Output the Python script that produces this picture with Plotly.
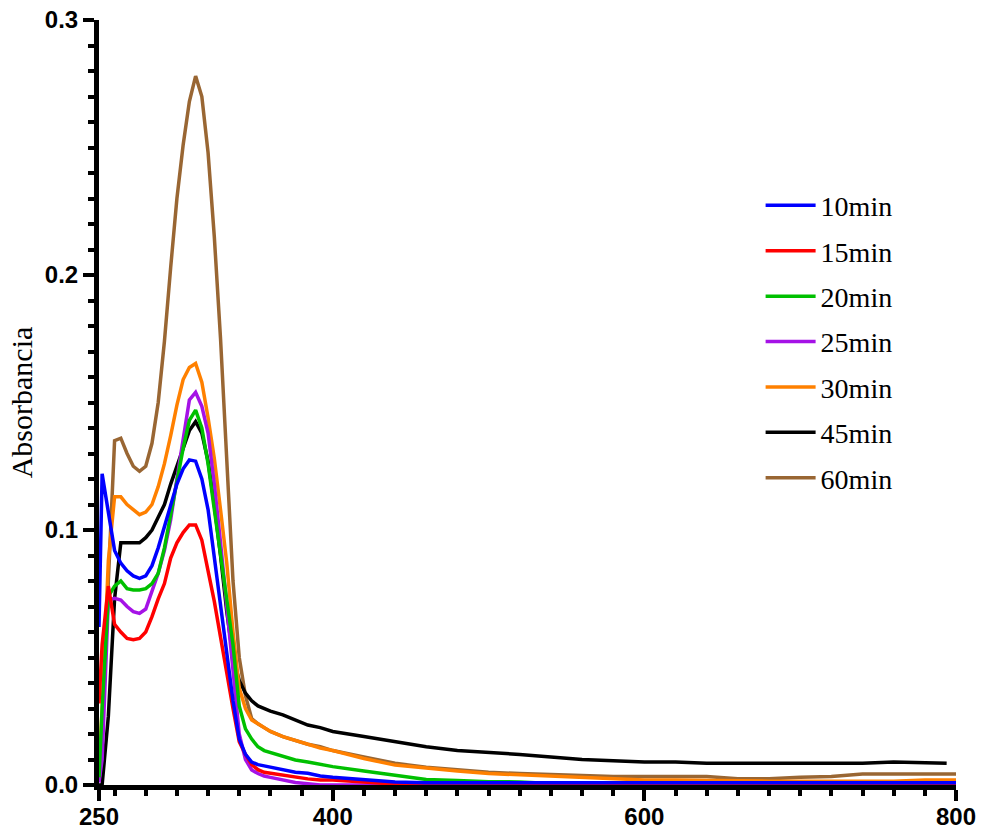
import plotly.graph_objects as go

# wavelength (nm)
wavelengths = [250, 252, 256, 260, 264, 268, 272, 276, 280, 284, 288, 292, 296, 300,
               304, 308, 312, 316, 320, 324, 328, 332, 336, 340, 344, 348, 352, 356,
               360, 368, 376, 384, 392, 400, 420, 440, 460, 480, 500, 520, 540, 560,
               580, 600, 620, 640, 660, 680, 700, 720, 740, 760, 780, 800]
wavelengths_45 = wavelengths[:-1] + [794]

abs_10 = [0.062, 0.122, 0.107, 0.092, 0.087, 0.084, 0.082, 0.081, 0.082, 0.086, 0.093, 0.101, 0.110, 0.118,
          0.124, 0.1275, 0.127, 0.120, 0.108, 0.089, 0.071, 0.052, 0.033, 0.018, 0.012, 0.009, 0.008, 0.0075,
          0.007, 0.0058, 0.005, 0.0046, 0.0035, 0.003, 0.002, 0.0012, 0.0009, 0.0009, 0.0009, 0.0009, 0.0009, 0.0009,
          0.0009, 0.0009, 0.0009, 0.0009, 0.0009, 0.0009, 0.0009, 0.0009, 0.0009, 0.0009, 0.0009, 0.0009]
abs_15 = [0.032, 0.055, 0.078, 0.063, 0.060, 0.0575, 0.057, 0.0575, 0.060, 0.066, 0.073, 0.079, 0.089, 0.095,
          0.099, 0.102, 0.102, 0.096, 0.084, 0.072, 0.058, 0.043, 0.030, 0.017, 0.012, 0.008, 0.006, 0.005,
          0.0046, 0.004, 0.003, 0.0024, 0.002, 0.002, 0.0012, 0.0003, 0, 0, 0, 0, 0, 0,
          0, 0, 0, 0, 0, 0, 0, 0, 0, 0, 0, 0]
abs_20 = [0.003, 0.030, 0.074, 0.078, 0.080, 0.077, 0.0765, 0.0765, 0.077, 0.079, 0.083, 0.093, 0.106, 0.119,
          0.132, 0.143, 0.147, 0.140, 0.126, 0.108, 0.090, 0.073, 0.055, 0.031, 0.022, 0.018, 0.015, 0.0135,
          0.0128, 0.0115, 0.0098, 0.009, 0.008, 0.0072, 0.0055, 0.004, 0.0022, 0.0018, 0.0013, 0.0012, 0.0006, 0,
          0, 0, 0, 0, 0, 0, 0, 0, 0, 0, 0, 0]
abs_25 = [0.001, 0.010, 0.0725, 0.0732, 0.0725, 0.070, 0.068, 0.0673, 0.069, 0.076, 0.083, 0.092, 0.104, 0.120,
          0.136, 0.151, 0.154, 0.1485, 0.138, 0.118, 0.095, 0.070, 0.045, 0.020, 0.010, 0.0059, 0.0045, 0.0035,
          0.003, 0.002, 0.001, 0.0005, 0, 0, 0, 0, 0, 0, 0, 0, 0, 0,
          0, 0, 0, 0, 0, 0, 0, 0, 0, 0, 0, 0]
abs_30 = [0.006, 0.030, 0.088, 0.113, 0.113, 0.110, 0.108, 0.106, 0.107, 0.110, 0.117, 0.126, 0.137, 0.149,
          0.159, 0.1637, 0.1653, 0.158, 0.144, 0.128, 0.108, 0.087, 0.060, 0.038, 0.030, 0.0255, 0.024, 0.0225,
          0.021, 0.019, 0.0175, 0.016, 0.0145, 0.0135, 0.0104, 0.0078, 0.0065, 0.0055, 0.0045, 0.004, 0.0032, 0.0028,
          0.0022, 0.002, 0.002, 0.0018, 0.0015, 0.0015, 0.0015, 0.0015, 0.0015, 0.0015, 0.002, 0.002]
abs_45 = [0.0, 0.0, 0.027, 0.073, 0.095, 0.095, 0.095, 0.095, 0.097, 0.100, 0.105, 0.110, 0.118, 0.125,
          0.132, 0.139, 0.1425, 0.138, 0.127, 0.110, 0.090, 0.068, 0.050, 0.041, 0.036, 0.033, 0.031, 0.030,
          0.029, 0.0275, 0.0255, 0.0235, 0.0225, 0.021, 0.019, 0.017, 0.015, 0.0135, 0.0128, 0.012, 0.011, 0.010,
          0.0095, 0.009, 0.009, 0.0085, 0.0085, 0.0085, 0.0085, 0.0085, 0.0085, 0.009, 0.0088, 0.0085]
abs_60 = [0.004, 0.020, 0.080, 0.135, 0.136, 0.130, 0.125, 0.123, 0.125, 0.134, 0.150, 0.174, 0.203, 0.230,
          0.251, 0.268, 0.278, 0.270, 0.248, 0.215, 0.175, 0.125, 0.080, 0.050, 0.035, 0.026, 0.024, 0.0225,
          0.021, 0.019, 0.0175, 0.016, 0.015, 0.0135, 0.011, 0.0085, 0.007, 0.006, 0.005, 0.0045, 0.004, 0.0035,
          0.0033, 0.0033, 0.0033, 0.0033, 0.0025, 0.0025, 0.003, 0.0033, 0.0043, 0.0043, 0.0043, 0.0043]

series_names = ["10min", "15min", "20min", "25min", "30min", "45min", "60min"]
series_values = [abs_10, abs_15, abs_20, abs_25, abs_30, abs_45, abs_60]
series_x = [wavelengths] * 5 + [wavelengths_45, wavelengths]
series_colors = ["#0000FF", "#FF0000", "#00C000", "#A512E6", "#FF8000", "#000000", "#996633"]

x_tick_vals = [250, 400, 600, 800]
x_tick_text = ["250", "400", "600", "800"]
y_tick_vals = [0.0, 0.1, 0.2, 0.3]
y_tick_text = ["0.0", "0.1", "0.2", "0.3"]

fig = go.Figure()
for i in reversed(range(len(series_names))):
    fig.add_trace(go.Scatter(
        x=series_x[i], y=series_values[i], mode="lines", name=series_names[i],
        legendgroup=series_names[i], legendrank=i + 1,
        line=dict(color=series_colors[i], width=3.5),
    ))

tick_font = dict(family="Liberation Sans", size=24, color="black", weight="bold")
serif = "Liberation Serif"

fig.update_layout(
    width=981, height=833,
    margin=dict(l=99, r=25, t=20, b=48),
    paper_bgcolor="white", plot_bgcolor="white",
    showlegend=True,
    legend=dict(
        x=0.772, y=0.79, xanchor="left", yanchor="top",
        traceorder="grouped", tracegroupgap=6, itemwidth=50,
        font=dict(family=serif, size=28, color="black"),
        bgcolor="rgba(0,0,0,0)",
    ),
    xaxis=dict(
        range=[250, 800], showgrid=False, zeroline=False, automargin=False,
        showline=True, linecolor="black", linewidth=5,
        ticks="outside", ticklen=11, tickwidth=4, tickcolor="black",
        tickmode="array", tickvals=x_tick_vals, ticktext=x_tick_text,
        tickfont=tick_font, ticklabelstandoff=-5,
        minor=dict(ticks="outside", ticklen=6, tickwidth=4, tickcolor="black",
                   tick0=0, dtick=20, showgrid=False),
    ),
    yaxis=dict(
        range=[0, 0.3], showgrid=False, zeroline=False, automargin=False,
        showline=True, linecolor="black", linewidth=5,
        ticks="outside", ticklen=11, tickwidth=4, tickcolor="black",
        tickmode="array", tickvals=y_tick_vals, ticktext=y_tick_text,
        tickfont=tick_font,
        minor=dict(ticks="outside", ticklen=6, tickwidth=4, tickcolor="black",
                   tick0=0, dtick=0.01, showgrid=False),
        title=dict(text="Absorbancia",
                   font=dict(family=serif, size=30, color="black"),
                   standoff=5),
    ),
)

fig.write_html("out.html")
